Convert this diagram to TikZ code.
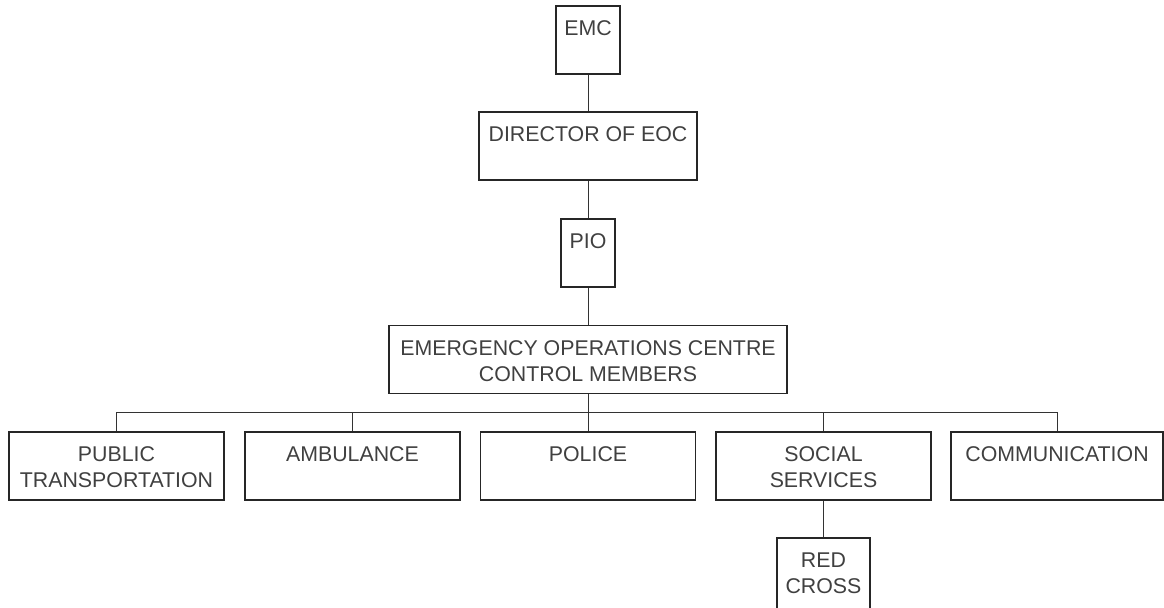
\documentclass[tikz,border=0pt]{standalone}
\usepackage{fontspec}
\setmainfont{Liberation Sans}
\usetikzlibrary{calc}

\tikzstyle{unit}=[draw=black!85, line width=0.8pt, minimum height=51pt, inner sep=0pt]
\tikzstyle{caption}=[anchor=north, yshift=-11.5pt, inner sep=0pt, align=center, text=black!75, font=\fontsize{16}{19.5}\selectfont]
\tikzstyle{link}=[draw=black!80, line width=0.75pt]

\begin{document}
\begin{tikzpicture}[x=0.75pt, y=-0.75pt]
\useasboundingbox (0,0) rectangle (1164,607);

\node[unit, minimum width=48pt, label={[caption]north:EMC}] (emc) at (588,40) {};
\node[unit, minimum width=163.5pt, label={[caption]north:DIRECTOR OF EOC}] (director) at (588,146) {};
\node[unit, minimum width=40.5pt, label={[caption]north:PIO}] (pio) at (588,253) {};
\node[unit, minimum width=298.5pt, label={[caption]north:EMERGENCY OPERATIONS CENTRE\\CONTROL MEMBERS}] (eoc) at (588,359.5) {};

\node[unit, minimum width=161.25pt, label={[caption]north:PUBLIC\\TRANSPORTATION}] (transport) at (116.5,466) {};
\node[unit, minimum width=161.25pt, label={[caption]north:AMBULANCE}] (ambulance) at (352.5,466) {};
\node[unit, minimum width=161.25pt, label={[caption]north:POLICE}] (police) at (588,466) {};
\node[unit, minimum width=161.25pt, label={[caption]north:SOCIAL\\SERVICES}] (social) at (823.5,466) {};
\node[unit, minimum width=159pt, label={[caption]north:COMMUNICATION}] (comm) at (1057,466) {};
\node[unit, minimum width=69.75pt, minimum height=54pt, label={[caption]north:RED\\CROSS}] (redcross) at (823.5,574) {};

\coordinate (bus) at ($(eoc.south)!0.5!(police.north)$);

\draw[link] (emc) -- (director);
\draw[link] (director) -- (pio);
\draw[link] (pio) -- (eoc);
\draw[link] (eoc) -- (police);
\draw[link] (bus) -| (transport.north);
\draw[link] (bus) -| (ambulance.north);
\draw[link] (bus) -| (social.north);
\draw[link] (bus) -| (comm.north);
\draw[link] (social) -- (redcross);
\end{tikzpicture}
\end{document}
